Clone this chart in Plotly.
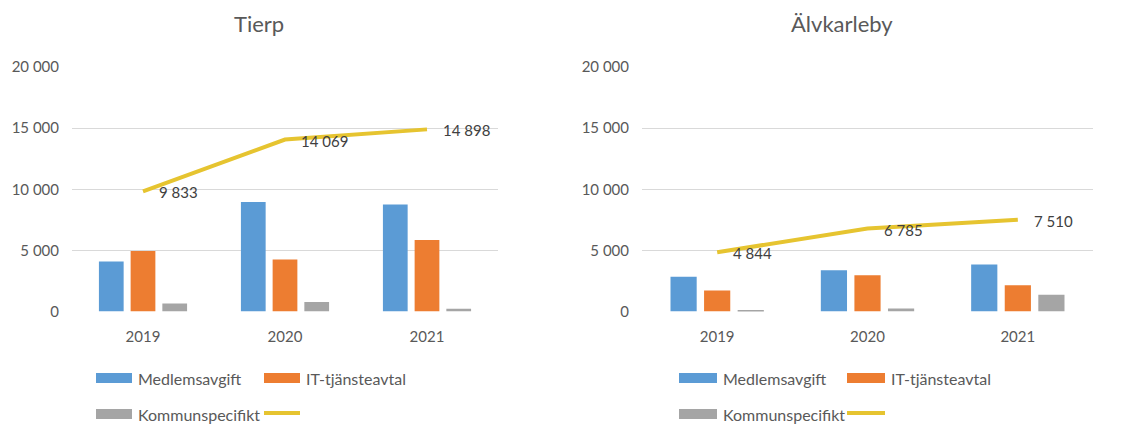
import plotly.graph_objects as go

W, H = 1140, 424
# the page body adds an 8px margin, so the figure sits 8px right/down
OFF = 8

years = ["2019", "2020", "2021"]
series_names = ["Medlemsavgift", "IT-tjänsteavtal", "Kommunspecifikt", ""]

tierp_medlem = [4100, 8950, 8750]
tierp_it = [4950, 4250, 5850]
tierp_kommun = [650, 780, 230]
tierp_total = [9833, 14069, 14898]

alv_medlem = [2850, 3380, 3850]
alv_it = [1720, 2970, 2150]
alv_kommun = [120, 250, 1380]
alv_total = [4844, 6785, 7510]

y_ticks = [0, 5000, 10000, 15000, 20000]

colors = ["#5B9BD5", "#ED7D31", "#A5A5A5", "#E6C430"]
txt_col = "#595959"
font_name = "Lato"


def px(x):
    return (x - OFF) / W


def py(y):
    return 1 - (y - OFF) / H


def fmt(v):
    return f"{v:,}".replace(",", " ")


panels = [
    dict(title="Tierp", bars=[tierp_medlem, tierp_it, tierp_kommun], total=tierp_total,
         xa="x", ya="y", dom=[72, 498], title_x=259, leg_x=96, sw=36),
    dict(title="Älvkarleby", bars=[alv_medlem, alv_it, alv_kommun], total=alv_total,
         xa="x2", ya="y2", dom=[642, 1093], title_x=842, leg_x=679, sw=38),
]

fig = go.Figure()
annotations = []
shapes = []

for p in panels:
    for name, vals, col in zip(series_names[:3], p["bars"], colors[:3]):
        fig.add_trace(go.Bar(x=years, y=vals, name=name, marker_color=col,
                             marker_line_width=0, xaxis=p["xa"], yaxis=p["ya"],
                             showlegend=False))
    fig.add_trace(go.Scatter(x=years, y=p["total"], mode="lines",
                             line=dict(color=colors[3], width=4),
                             xaxis=p["xa"], yaxis=p["ya"], showlegend=False))
    # data labels on the line (x given as category index)
    for i, v in enumerate(p["total"]):
        annotations.append(dict(x=i, y=v, xref=p["xa"], yref=p["ya"], text=fmt(v),
                                showarrow=False, xanchor="left", yanchor="middle",
                                xshift=14, yshift=-1,
                                font=dict(family=font_name, size=15, color="#404040")))
    # title
    annotations.append(dict(x=px(p["title_x"]), y=py(24),
                            xref="paper", yref="paper", text=p["title"], showarrow=False,
                            xanchor="center", yanchor="middle",
                            font=dict(family=font_name, size=22, color=txt_col)))
    # legend
    rows = [(378, 0), (378, 1), (414, 0), (414, 1)]
    for i, (name, col) in enumerate(zip(series_names, colors)):
        ry, c = rows[i]
        x0 = p["leg_x"] + c * 168
        if i < 3:
            shapes.append(dict(type="rect", xref="paper", yref="paper",
                               x0=px(x0), x1=px(x0 + p["sw"]), y0=py(ry + 5), y1=py(ry - 5),
                               fillcolor=col, line_width=0))
        else:
            shapes.append(dict(type="line", xref="paper", yref="paper",
                               x0=px(x0), x1=px(x0 + p["sw"]), y0=py(ry - 1), y1=py(ry - 1),
                               line=dict(color=col, width=4)))
        if name:
            annotations.append(dict(x=px(x0 + p["sw"] + 4), y=py(ry), xref="paper", yref="paper",
                                    text=name, showarrow=False, xanchor="left", yanchor="middle",
                                    font=dict(family=font_name, size=16, color=txt_col)))

ydom = [py(311.5), py(67)]
axis_common = dict(showline=False, zeroline=False, ticks="", automargin=False)

fig.update_layout(
    width=W, height=H,
    margin=dict(l=0, r=0, t=0, b=0),
    paper_bgcolor="white", plot_bgcolor="white",
    barmode="group", bargap=0.33, bargroupgap=0.22,
    separators=", ",
    font=dict(family=font_name, size=15, color=txt_col),
    xaxis=dict(type="category", range=[-0.5, 2.5],
               domain=[px(panels[0]["dom"][0]), px(panels[0]["dom"][1])],
               anchor="y", showgrid=False, ticklabelstandoff=14, **axis_common),
    xaxis2=dict(type="category", range=[-0.5, 2.5],
                domain=[px(panels[1]["dom"][0]), px(panels[1]["dom"][1])],
                anchor="y2", showgrid=False, ticklabelstandoff=14, **axis_common),
    yaxis=dict(domain=ydom, anchor="x", range=[0, 20000], tickvals=y_ticks, tickformat=",d",
               showgrid=True, gridcolor="#D9D9D9", gridwidth=1, ticklabelstandoff=12, **axis_common),
    yaxis2=dict(domain=ydom, anchor="x2", range=[0, 20000], tickvals=y_ticks, tickformat=",d",
                showgrid=True, gridcolor="#D9D9D9", gridwidth=1, ticklabelstandoff=12, **axis_common),
    annotations=annotations,
    shapes=shapes,
)

fig.write_html("out.html")
